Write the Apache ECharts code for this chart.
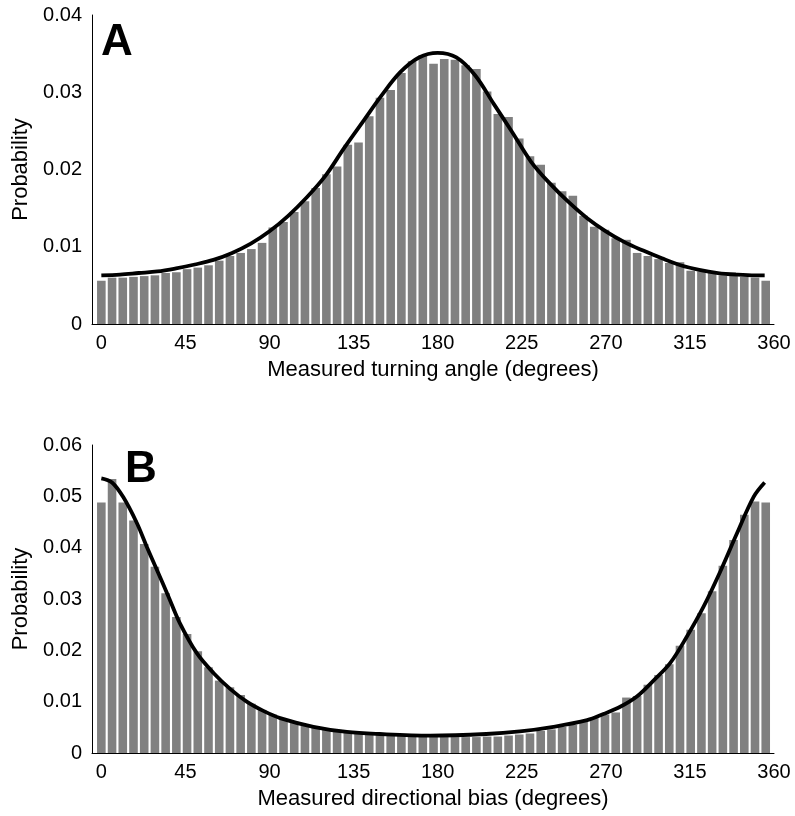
<!DOCTYPE html>
<html>
<head>
<meta charset="utf-8">
<script src="https://cdn.jsdelivr.net/npm/echarts@6/dist/echarts.min.js"></script>
<style>html,body{margin:0;padding:0;background:#fff}#c{width:795px;height:816px}</style>
</head>
<body>
<div id="c"></div>
<script>
// ---- data ----
const binCount = 63;
const binStep = 5.735; // degrees between histogram bin centres
const binCenters = Array.from({length: binCount}, (_, i) => +(i * binStep).toFixed(3));

const turningProb = [
  0.0056, 0.0060, 0.0060, 0.0061, 0.0062, 0.0063, 0.0066, 0.0067, 0.0071, 0.0073,
  0.0076, 0.0082, 0.0088, 0.0092, 0.0097, 0.0105, 0.0125, 0.0132, 0.0145, 0.0159,
  0.0176, 0.0194, 0.0204, 0.0232, 0.0235, 0.0269, 0.0293, 0.0303, 0.0325, 0.0340,
  0.0348, 0.0337, 0.0343, 0.0342, 0.0335, 0.0330, 0.0301, 0.0272, 0.0268, 0.0240,
  0.0217, 0.0206, 0.0183, 0.0172, 0.0166, 0.0140, 0.0126, 0.0122, 0.0111, 0.0109,
  0.0092, 0.0088, 0.0084, 0.0079, 0.0080, 0.0069, 0.0068, 0.0066, 0.0063, 0.0062,
  0.0061, 0.0060, 0.0056
];
const biasProb = [
  0.0488, 0.0534, 0.0488, 0.0453, 0.0407, 0.0363, 0.0311, 0.0265, 0.0232, 0.0198,
  0.0167, 0.0141, 0.0128, 0.0113, 0.0096, 0.0084, 0.0075, 0.0066, 0.0061, 0.0055,
  0.0049, 0.0045, 0.0042, 0.0040, 0.0037, 0.0036, 0.0035, 0.0034, 0.0033, 0.0033,
  0.0032, 0.0032, 0.0031, 0.0031, 0.0031, 0.0031, 0.0032, 0.0032, 0.0034, 0.0036,
  0.0038, 0.0043, 0.0046, 0.0051, 0.0055, 0.0062, 0.0068, 0.0075, 0.0079, 0.0108,
  0.0111, 0.0133, 0.0152, 0.0173, 0.0209, 0.0240, 0.0272, 0.0315, 0.0365, 0.0415,
  0.0464, 0.0490, 0.0488
];

const turningFitDeg = [0,10,20,30,40,50,60,70,80,90,100,110,120,130,140,150,160,170,180,
  190,200,210,220,230,240,250,260,270,280,290,300,310,320,330,340,350,355];
const turningFit = [0.0063,0.0064,0.0066,0.0068,0.0072,0.0077,0.0083,0.0092,0.0104,0.0120,
  0.0140,0.0164,0.0192,0.0228,0.0262,0.0296,0.0326,0.0345,0.0351,
  0.0345,0.0322,0.0285,0.0248,0.0210,0.0182,0.0158,0.0137,0.0120,0.0106,0.0095,
  0.0085,0.0076,0.0070,0.0066,0.0064,0.0063,0.0063];

const biasFitDeg = [0,5.7,11.8,19,24.3,29.7,35.9,42,51,60,68.9,77.8,86.7,95.7,113.5,131.4,149,176,
  206,224,242,260,268.7,277.7,286.6,295.5,304.4,313.4,322.3,331.2,340.2,349.1,355];
const biasFit = [0.0535,0.0527,0.0498,0.0448,0.0402,0.0357,0.0305,0.0253,0.0195,0.0156,0.0125,0.0100,0.0082,0.0068,0.0051,0.0041,0.0037,0.0034,
  0.0037,0.0042,0.0051,0.0064,0.0076,0.0090,0.0110,0.0141,0.0175,0.0227,0.0285,0.0353,0.0428,0.0499,0.0527];

const xTickLabels = [0, 45, 90, 135, 180, 225, 270, 315, 360];
const panelLabels = ['A', 'B'];
const xTitles = ['Measured turning angle (degrees)', 'Measured directional bias (degrees)'];
const yTitle = 'Probability';
const yMax = [0.04, 0.06];

// ---- chart ----
const FONT = '"Liberation Sans", Arial, Helvetica, sans-serif';
const chart = echarts.init(document.getElementById('c'), null, {renderer: 'canvas'});

function xAxisCfg(idx) {
  return {
    type: 'value', gridIndex: idx, min: -5, max: 360,
    axisLine: {show: true, onZero: false, lineStyle: {color: '#000', width: 1}},
    axisTick: {show: false},
    splitLine: {show: false},
    axisLabel: {customValues: xTickLabels, fontSize: 20, color: '#000', margin: 9, fontFamily: FONT},
    name: xTitles[idx], nameLocation: 'middle', nameGap: 35,
    nameTextStyle: {fontSize: 22, color: '#000', fontFamily: FONT}
  };
}
function yAxisCfg(idx) {
  return {
    type: 'value', gridIndex: idx, min: 0, max: yMax[idx], interval: 0.01,
    axisLine: {show: true, onZero: false, lineStyle: {color: '#000', width: 1}},
    axisTick: {show: false},
    splitLine: {show: false},
    axisLabel: {fontSize: 20, color: '#000', margin: 10, fontFamily: FONT},
    name: yTitle, nameLocation: 'middle', nameGap: 59,
    nameTextStyle: {fontSize: 22, color: '#000', fontFamily: FONT}
  };
}
function barSeries(idx, vals) {
  return {
    type: 'bar', xAxisIndex: idx, yAxisIndex: idx,
    data: vals.map((v, i) => [binCenters[i], v]),
    barWidth: 8.6, itemStyle: {color: '#808080'}, silent: true, z: 2
  };
}
function lineSeries(idx, xs, ys) {
  return {
    type: 'line', xAxisIndex: idx, yAxisIndex: idx,
    data: xs.map((x, i) => [x, ys[i]]),
    smooth: 0.35, showSymbol: false, symbol: 'none',
    lineStyle: {color: '#000', width: 3.8}, z: 5, silent: true
  };
}

chart.setOption({
  animation: false,
  backgroundColor: '#fff',
  textStyle: {fontFamily: FONT},
  grid: [
    {left: 92, top: 15, width: 682, height: 309, outerBoundsMode: 'none'},
    {left: 92, top: 445, width: 682, height: 308, outerBoundsMode: 'none'}
  ],
  xAxis: [xAxisCfg(0), xAxisCfg(1)],
  yAxis: [yAxisCfg(0), yAxisCfg(1)],
  series: [
    barSeries(0, turningProb),
    lineSeries(0, turningFitDeg, turningFit),
    barSeries(1, biasProb),
    lineSeries(1, biasFitDeg, biasFit)
  ],
  graphic: [
    {type: 'text', left: 101, top: 21, z: 10,
     style: {text: panelLabels[0], font: 'bold 44px ' + FONT, fill: '#000'}},
    {type: 'text', left: 125, top: 448, z: 10,
     style: {text: panelLabels[1], font: 'bold 44px ' + FONT, fill: '#000'}}
  ]
});
</script>
</body>
</html>
